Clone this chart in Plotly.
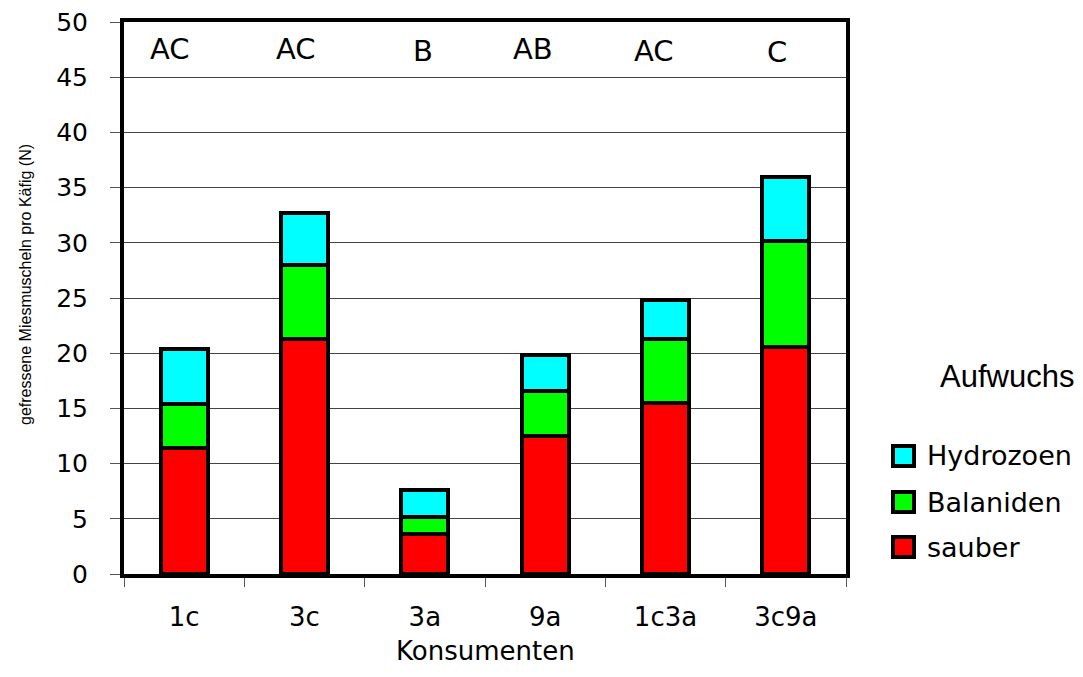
import plotly.graph_objects as go

categories = ["1c", "3c", "3a", "9a", "1c3a", "3c9a"]
sauber = [11.4, 21.3, 3.6, 12.5, 15.5, 20.6]
balaniden = [4.0, 6.7, 1.6, 4.1, 5.8, 9.6]
hydrozoen = [5.0, 4.7, 2.4, 3.2, 3.5, 5.8]
letters = ["AC", "AC", "B", "AB", "AC", "C"]
letter_y = [47.55, 47.55, 47.4, 47.55, 47.4, 47.3]
y_ticks = list(range(0, 51, 5))

# style / layout helpers
letter_xshift = [-14, -9, -2, -12, -12, -9]
ARIAL = "Liberation Sans, Arial, sans-serif"
WIDE = "DejaVu Sans, Verdana, sans-serif"

series = [("sauber", sauber, "#ff0000"),
          ("Balaniden", balaniden, "#00ff00"),
          ("Hydrozoen", hydrozoen, "#00ffff")]

fig = go.Figure()
for name, vals, col in series:
    fig.add_trace(go.Bar(
        x=categories, y=vals, name=name, showlegend=False,
        marker=dict(color=col, line=dict(color="black", width=4)),
        width=0.39,
    ))

# significance letters
for c, t, yy, xs in zip(categories, letters, letter_y, letter_xshift):
    fig.add_annotation(x=c, y=yy, text=t, showarrow=False, xshift=xs,
                       xanchor="center", yanchor="middle",
                       font=dict(family=WIDE, size=29, color="black"))

# y axis title
fig.add_annotation(x=-0.1357, y=0.5236, xref="paper", yref="paper",
                   xanchor="center", yanchor="middle",
                   text="gefressene Miesmuscheln pro Käfig (N)", textangle=-90,
                   showarrow=False, font=dict(family=ARIAL, size=16, color="black"))

# x axis title
fig.add_annotation(x=0.5, y=-0.140, xref="paper", yref="paper",
                   xanchor="center", yanchor="middle",
                   text="Konsumenten", showarrow=False,
                   font=dict(family=WIDE, size=26, color="black"))

# manual legend (top to bottom: Hydrozoen, Balaniden, sauber)
fig.add_annotation(x=1.223, y=0.357, xref="paper", yref="paper",
                   xanchor="center", yanchor="middle",
                   text="Aufwuchs", showarrow=False,
                   font=dict(family=ARIAL, size=31, color="black"))
legend_rows = [("Hydrozoen", "#00ffff", 0.2138),
               ("Balaniden", "#00ff00", 0.1304),
               ("sauber", "#ff0000", 0.0489)]
half_h = 10.0 / 552
for name, col, yc in legend_rows:
    fig.add_shape(type="rect", xref="paper", yref="paper",
                  x0=1.0651, x1=1.0942, y0=yc - half_h, y1=yc + half_h,
                  fillcolor=col, line=dict(color="black", width=4))
    fig.add_annotation(x=1.1094, y=yc, xref="paper", yref="paper",
                       text=name, showarrow=False, xanchor="left", yanchor="middle",
                       font=dict(family=WIDE, size=27, color="black"))

fig.update_layout(
    width=1067, height=661,
    margin=dict(l=116, r=229, t=14, b=95, autoexpand=False),
    barmode="stack",
    plot_bgcolor="white", paper_bgcolor="white",
    font=dict(family=WIDE, color="black"),
    xaxis=dict(
        automargin=False,
        tickfont=dict(family=WIDE, size=26),
        showline=True, linecolor="black", linewidth=4, mirror=True,
        ticks="outside", tickson="boundaries", ticklen=9, tickcolor="#555", tickwidth=1,
        ticklabelstandoff=17,
        showgrid=False,
    ),
    yaxis=dict(
        automargin=False,
        range=[0, 50], tickvals=y_ticks,
        tickfont=dict(family=WIDE, size=25),
        ticklabeloverflow="allow",
        showline=True, linecolor="black", linewidth=4, mirror=True,
        ticks="outside", ticklen=10, tickcolor="#555", tickwidth=1,
        ticklabelstandoff=17,
        showgrid=True, gridcolor="#444", gridwidth=1,
        zeroline=False,
    ),
)

fig.write_html("out.html")
